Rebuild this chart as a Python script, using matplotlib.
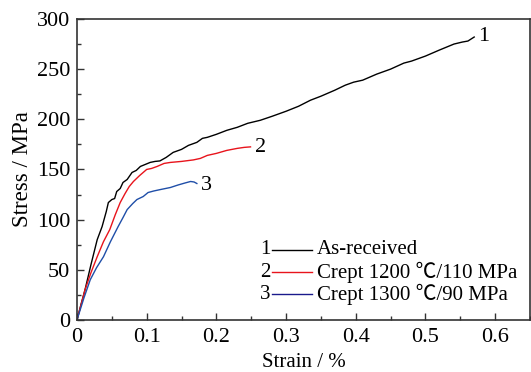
import numpy as np
import matplotlib
matplotlib.use('Agg')
import matplotlib.pyplot as plt
from matplotlib.ticker import MultipleLocator

plt.rcParams['font.family'] = ['Liberation Serif', 'Noto Sans CJK SC', 'DejaVu Sans']

# 数据
strain_1 = [0, 0.006, 0.0115, 0.02, 0.029, 0.036, 0.042, 0.045, 0.05, 0.054, 0.057, 0.062,
            0.066, 0.072, 0.079, 0.085, 0.091, 0.098, 0.105, 0.112, 0.119, 0.128, 0.138,
            0.15, 0.16, 0.172, 0.18, 0.187, 0.2, 0.215, 0.23, 0.245, 0.263, 0.28, 0.3,
            0.318, 0.335, 0.35, 0.37, 0.385, 0.397, 0.41, 0.43, 0.45, 0.469, 0.48,
            0.5, 0.52, 0.541, 0.553, 0.561, 0.570]
stress_1 = [0, 16, 30, 55, 80, 93, 108, 117, 120, 121, 128, 131,
            137, 140, 147, 149, 153, 155, 157, 158, 158.5, 162, 167,
            170, 174, 177, 181, 182, 185, 189, 192, 196, 199, 203, 208,
            213, 219, 223, 229, 234, 237, 239, 245, 250, 256, 258,
            263, 269, 275, 277, 278, 282]

strain_2 = [0, 0.0115, 0.02, 0.029, 0.038, 0.047, 0.055, 0.062, 0.069, 0.075, 0.081, 0.09,
            0.1, 0.107, 0.115, 0.125, 0.134, 0.15, 0.167, 0.177, 0.187, 0.2, 0.215, 0.23,
            0.24, 0.249]
stress_2 = [0, 30, 47, 63, 78, 90, 105, 117, 126, 133, 138, 144,
            150, 151, 153, 156, 157, 158, 159.5, 161, 164, 166, 169, 171,
            172, 172.5]

strain_3 = [0, 0.01, 0.019, 0.028, 0.038, 0.048, 0.059, 0.066, 0.072, 0.08, 0.086, 0.095,
            0.102, 0.11, 0.12, 0.134, 0.145, 0.155, 0.163, 0.168, 0.172]
stress_3 = [0, 22, 40, 52, 63, 78, 93, 102, 110, 116, 120, 123,
            127, 128.5, 130, 132, 134.5, 136.5, 138, 137.5, 136]

labels = ['As-received', 'Crept 1200 \u2103/110 MPa', 'Crept 1300 \u2103/90 MPa']
colors = ['black', '#e8141c', '#1f4ea8']
legend_colors = ['black', '#e8141c', '#1a1a8c']

fig, ax = plt.subplots(figsize=(5.31, 3.72), dpi=100)
fig.subplots_adjust(left=0.145, right=0.998, top=0.949, bottom=0.14)

curves = [(strain_1, stress_1), (strain_2, stress_2), (strain_3, stress_3)]
for (x, y), c in zip(curves, colors):
    ax.plot(x, y, color=c, lw=1.0)

# 曲线末端编号
ax.text(0.575, 283, '1', fontsize=16, va='center', ha='left')
ax.text(0.256, 172, '2', fontsize=16, va='center', ha='left')
ax.text(0.178, 134, '3', fontsize=16, va='center', ha='left')

ax.set_xlim(0, 0.65)
ax.set_ylim(0, 300)
ax.xaxis.set_major_locator(MultipleLocator(0.1))
ax.xaxis.set_minor_locator(MultipleLocator(0.05))
ax.yaxis.set_major_locator(MultipleLocator(50))
ax.yaxis.set_minor_locator(MultipleLocator(25))
ax.set_xticklabels(['0' if abs(v) < 1e-9 else f'{v:.1f}' for v in ax.get_xticks()])
ax.tick_params(which='both', direction='in', labelsize=16, color='#333333')
ax.tick_params(which='major', length=5, width=1)
ax.tick_params(which='minor', length=3, width=1)
ax.tick_params(axis='x', pad=6)
ax.tick_params(axis='y', pad=5)
for s in ax.spines.values():
    s.set_color('#333333')
    s.set_linewidth(1.2)

ax.set_xlabel('Strain / %', fontsize=15, labelpad=4)
ax.set_ylabel('Stress / MPa', fontsize=16.5, labelpad=3)

# 手动图例
rows_y = [0.233, 0.159, 0.086]
for i, (lab, c) in enumerate(zip(labels, legend_colors)):
    yy = rows_y[i]
    ax.text(0.428, yy, str(i + 1), transform=ax.transAxes, fontsize=15, ha='right', va='center')
    ax.plot([0.430, 0.519], [yy, yy], transform=ax.transAxes, color=c, lw=1.0)
    ax.text(0.530, yy, lab, transform=ax.transAxes, fontsize=15, ha='left', va='center')

fig.savefig('out.png', dpi=100)
